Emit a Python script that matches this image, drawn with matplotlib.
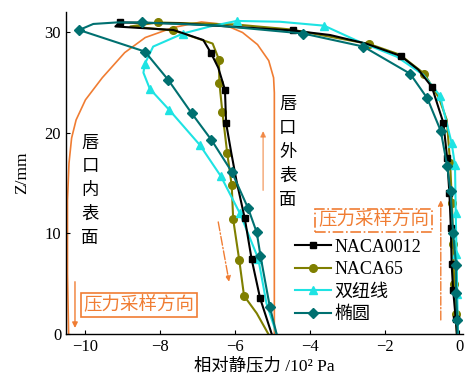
import numpy as np
import matplotlib
matplotlib.use('Agg')
import matplotlib.pyplot as plt

plt.rcParams.update({
    'font.family': ['Liberation Serif', 'Noto Sans CJK SC'],
    'font.size': 11.5,
    'axes.linewidth': 1.0,
    'xtick.direction': 'in',
    'ytick.direction': 'in',
    'xtick.major.size': 3,
    'ytick.major.size': 3,
    'axes.unicode_minus': True,
})

# data: pressure (10^2 Pa) vs Z (mm)
x_naca0012 = [-5.02, -5.33, -5.56, -5.74, -5.96, -6.10, -6.24, -6.27, -6.45, -6.65, -6.85, -7.65, -9.20, -9.08,
              -7.47, -4.46, -3.46, -2.50, -1.57, -1.10, -0.74, -0.43, -0.33, -0.27, -0.23, -0.21, -0.17, -0.10, -0.07]
z_naca0012 = [0, 3.55, 7.5, 11.5, 15.2, 18.0, 21.0, 24.3, 26.5, 28.0, 29.25, 30.25, 30.6, 31.0,
              30.9, 30.2, 29.75, 28.9, 27.66, 26.3, 24.6, 21.0, 17.5, 14.0, 10.5, 7.0, 4.4, 1.5, 0]
mk_naca0012 = [1, 2, 3, 6, 7, 9, 13, 15, 18, 20, 21, 22, 23, 24, 25, 26, 27]

x_naca65 = [-5.11, -5.42, -5.76, -5.89, -6.05, -6.09, -6.21, -6.34, -6.42, -6.43, -6.60, -7.39, -7.65, -8.80,
            -8.07, -6.00, -4.50, -2.41, -1.60, -0.94, -0.55, -0.34, -0.25, -0.20, -0.17, -0.14, -0.10, -0.07]
z_naca65 = [0, 2.06, 3.8, 7.4, 11.4, 14.8, 18.0, 22.1, 25.0, 27.3, 28.9, 29.9, 30.2, 30.6,
            31.0, 30.8, 30.3, 28.85, 27.8, 25.9, 23.5, 21.3, 17.0, 13.0, 9.0, 5.0, 2.0, 0]
mk_naca65 = [2, 3, 4, 5, 6, 7, 8, 9, 12, 14, 17, 19, 22, 23, 24, 25, 26]

x_lemn = [-4.89, -5.16, -5.38, -5.87, -6.38, -6.94, -7.76, -8.28, -8.45, -8.41, -8.19, -7.39, -6.67, -5.96,
          -4.80, -3.62, -2.75, -1.68, -0.97, -0.52, -0.21, -0.12, -0.10, -0.08, -0.06, -0.04]
z_lemn = [0, 3.05, 7.5, 12.0, 15.7, 18.8, 22.3, 24.4, 26.0, 26.9, 28.6, 29.9, 30.6, 31.15,
          31.07, 30.68, 29.2, 27.6, 25.8, 23.7, 19.0, 16.8, 12.0, 8.0, 4.0, 0]
mk_lemn = [2, 3, 4, 5, 6, 7, 9, 11, 13, 15, 19, 20, 21, 22, 23, 24]

x_ell = [-4.89, -5.07, -5.32, -5.42, -5.65, -6.09, -6.63, -7.16, -7.79, -8.41, -10.17, -9.79, -9.17, -8.50,
         -6.50, -4.18, -2.57, -1.32, -0.86, -0.50, -0.33, -0.24, -0.17, -0.09, -0.09, -0.06, -0.05]
z_ell = [0, 2.7, 7.76, 10.1, 12.5, 16.15, 19.3, 21.96, 25.3, 28.1, 30.25, 30.85, 31.0, 31.0,
         30.7, 29.9, 28.6, 25.9, 23.45, 20.2, 16.75, 14.2, 10.0, 6.9, 4.05, 1.4, 0]
mk_ell = [1, 2, 3, 4, 5, 6, 7, 8, 9, 10, 13, 15, 16, 17, 18, 19, 20, 21, 22, 23, 24, 25]

# lip outline (orange)
x_lip = [-10.45, -10.48, -10.48, -10.44, -10.37, -10.25, -10.00, -9.55, -8.95, -8.40, -7.65, -6.90,
         -6.30, -5.80, -5.40, -5.10, -4.97, -4.95, -4.95]
z_lip = [0, 6.0, 13.3, 17.0, 19.5, 21.3, 23.3, 25.5, 28.0, 29.5, 30.5, 31.05,
         30.8, 30.0, 28.8, 27.2, 25.5, 24.0, 0]

orange = '#F07D33'

fig = plt.figure(figsize=(4.66, 3.81), dpi=100)
ax = fig.add_axes([66 / 466, 47 / 381, 397 / 466, 321.6 / 381])

ax.plot(x_lip, z_lip, color=orange, lw=1.2, zorder=1)

ax.plot(x_naca0012, z_naca0012, '-s', color='black', lw=1.5, ms=5, markevery=mk_naca0012,
        label='NACA0012', zorder=3)
ax.plot(x_naca65, z_naca65, '-o', color='#7F7F00', lw=1.5, ms=5.5, markevery=mk_naca65,
        label='NACA65', zorder=2)
ax.plot(x_lemn, z_lemn, '-^', color='#1EE3E3', lw=1.5, ms=6, markevery=mk_lemn,
        label='双纽线', zorder=2)
ax.plot(x_ell, z_ell, '-D', color='#007070', lw=1.5, ms=5, markevery=mk_ell,
        label='椭圆', zorder=4)

# sampling direction arrows
arr = dict(arrowstyle='-|>', color=orange, lw=1.0, mutation_scale=8, shrinkA=0, shrinkB=0)
ax.annotate('', xy=(-10.28, 0.6), xytext=(-10.28, 5.2), arrowprops=arr)
ax.annotate('', xy=(-5.25, 20.2), xytext=(-5.25, 14.3),
            arrowprops=dict(arr, alpha=0.7))
ax.annotate('', xy=(-6.16, 5.2), xytext=(-6.45, 11.15), arrowprops=dict(arr, linestyle='-.'))
ax.annotate('', xy=(-0.5, 13.3), xytext=(-0.5, 1.4), arrowprops=dict(arr, linestyle='-.'))

ax.text(-8.57, 2.9, '压力采样方向', color=orange, fontsize=13.3, ha='center', va='center',
        bbox=dict(boxstyle='square,pad=0.15', fc='white', ec=orange, lw=1.2))
ax.text(-2.3, 11.3, '压力采样方向', color=orange, fontsize=13.3, ha='center', va='center',
        bbox=dict(boxstyle='square,pad=0.15', fc='white', ec=orange, lw=1.2, ls='-.'))

ax.text(-9.88, 14.2, '唇\n口\n内\n表\n面', fontsize=12.5, ha='center', va='center', linespacing=1.65)
ax.text(-4.59, 18.0, '唇\n口\n外\n表\n面', fontsize=12.5, ha='center', va='center', linespacing=1.65)

ax.set_xlim(-10.52, 0.094)
ax.set_ylim(0, 32)
ax.set_xticks(np.arange(-10, 0.1, 2))
ax.set_yticks([0, 10, 20, 30])
ax.spines['top'].set_visible(False)
ax.spines['right'].set_visible(False)
ax.tick_params(axis='both', labelsize=12)

ax.set_xlabel('相对静压力 /10\u00b2 Pa', fontsize=12.5, labelpad=2)
ax.set_ylabel('Z/mm', fontsize=12.5, labelpad=10)

ax.legend(loc='upper left', bbox_to_anchor=(0.577, 0.296), frameon=False, fontsize=13,
          handlelength=2.0, handletextpad=0.2, labelspacing=0.3, borderpad=0, borderaxespad=0)

fig.savefig('out.png', dpi=100)
